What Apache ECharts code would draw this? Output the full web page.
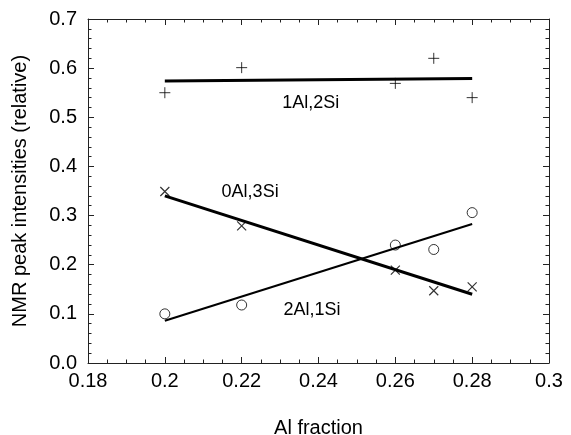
<!DOCTYPE html>
<html>
<head>
<meta charset="utf-8">
<script src="https://cdn.jsdelivr.net/npm/echarts@6/dist/echarts.min.js"></script>
<style>html,body{margin:0;padding:0;background:#fff}#c{width:571px;height:435px}</style>
</head>
<body>
<div id="c"></div>
<script>
// Data
var alFraction = [0.2, 0.22, 0.26, 0.27, 0.28];
var s1Al2Si = [0.550, 0.601, 0.569, 0.620, 0.540];
var s0Al3Si = [0.349, 0.279, 0.189, 0.147, 0.155];
var s2Al1Si = [0.100, 0.118, 0.240, 0.231, 0.306];
var fitX = [0.2, 0.28];
var fit1Al2Si = [0.574, 0.579];
var fit0Al3Si = [0.340, 0.140];
var fit2Al1Si = [0.086, 0.283];
var seriesNames = ['1Al,2Si', '0Al,3Si', '2Al,1Si'];
var labelAnchors = [[0.238, 0.529], [0.2222, 0.348], [0.2383, 0.108]];

function pairs(xs, ys) { return xs.map(function (x, i) { return [x, ys[i]]; }); }

var font = 'Liberation Sans, Arial, Helvetica, sans-serif';
var plusPath = 'path://M0,5L10,5M5,0L5,10';
var crossPath = 'path://M0,0L10,10M10,0L0,10';

var chart = echarts.init(document.getElementById('c'));

function axisCommon(extra) {
  return Object.assign({
    type: 'value',
    axisLine: { show: true, onZero: false, lineStyle: { color: '#222', width: 1 } },
    axisTick: { show: true, inside: true, length: 6, lineStyle: { color: '#222', width: 1 } },
    minorTick: { show: true, length: 3.5, lineStyle: { color: '#222', width: 1 } },
    splitLine: { show: false },
    minorSplitLine: { show: false }
  }, extra);
}

var option = {
  animation: false,
  backgroundColor: '#fff',
  grid: { left: 88, right: 22, top: 19, bottom: 72, outerBoundsMode: 'none', containLabel: false },
  xAxis: [
    axisCommon({
      min: 0.18, max: 0.3, interval: 0.02, position: 'bottom',
      minorTick: { show: true, splitNumber: 4, length: 3.5, lineStyle: { color: '#222', width: 1 } },
      axisLabel: { color: '#000', fontSize: 20, fontFamily: font, margin: 8,
        formatter: function (v) { return String(parseFloat(v.toFixed(2))); } },
      name: 'Al fraction', nameLocation: 'middle', nameGap: 55,
      nameTextStyle: { color: '#000', fontSize: 20, fontFamily: font, verticalAlign: 'top' }
    }),
    axisCommon({
      min: 0.18, max: 0.3, interval: 0.02, position: 'top',
      minorTick: { show: true, splitNumber: 4, length: 3.5, lineStyle: { color: '#222', width: 1 } },
      axisLabel: { show: false }
    })
  ],
  yAxis: [
    axisCommon({
      min: 0, max: 0.7, interval: 0.1, position: 'left',
      minorTick: { show: true, splitNumber: 5, length: 3.5, lineStyle: { color: '#222', width: 1 } },
      axisLabel: { color: '#000', fontSize: 20, fontFamily: font, margin: 11,
        formatter: function (v) { return v.toFixed(1); } },
      name: 'NMR peak intensities (relative)', nameLocation: 'middle', nameGap: 58,
      nameTextStyle: { color: '#000', fontSize: 20, fontFamily: font }
    }),
    axisCommon({
      min: 0, max: 0.7, interval: 0.1, position: 'right',
      minorTick: { show: true, splitNumber: 5, length: 3.5, lineStyle: { color: '#222', width: 1 } },
      axisLabel: { show: false }
    })
  ],
  series: [
    { type: 'scatter', name: seriesNames[0], data: pairs(alFraction, s1Al2Si), symbol: plusPath, symbolSize: 11,
      itemStyle: { color: 'transparent', borderColor: '#000', borderWidth: 1 } },
    { type: 'scatter', name: seriesNames[1], data: pairs(alFraction, s0Al3Si), symbol: crossPath, symbolSize: 9,
      itemStyle: { color: 'transparent', borderColor: '#000', borderWidth: 1.2 } },
    { type: 'scatter', name: seriesNames[2], data: pairs(alFraction, s2Al1Si), symbol: 'circle', symbolSize: 10,
      itemStyle: { color: 'transparent', borderColor: '#000', borderWidth: 1 } },
    { type: 'line', data: pairs(fitX, fit1Al2Si), symbol: 'none', lineStyle: { color: '#000', width: 3 } },
    { type: 'line', data: pairs(fitX, fit0Al3Si), symbol: 'none', lineStyle: { color: '#000', width: 3 } },
    { type: 'line', data: pairs(fitX, fit2Al1Si), symbol: 'none', lineStyle: { color: '#000', width: 2 } },
    { type: 'scatter', data: labelAnchors.map(function (p, i) { return { value: p, name: seriesNames[i] }; }),
      symbolSize: 0, silent: true, itemStyle: { opacity: 1 },
      label: { show: true, position: 'inside', formatter: '{b}', color: '#000', opacity: 1, fontSize: 18, fontFamily: font } }
  ]
};
chart.setOption(option);
</script>
</body>
</html>
